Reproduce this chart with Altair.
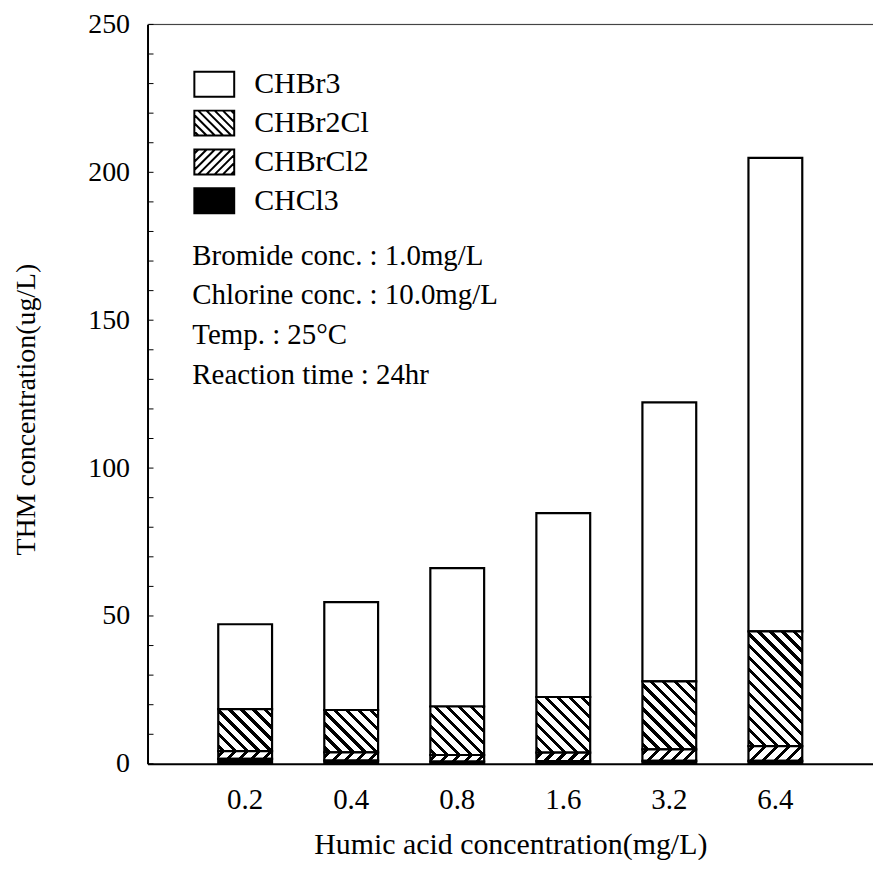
import altair as alt
import pandas as pd

# ---------------- data ----------------
humic = ["0.2", "0.4", "0.8", "1.6", "3.2", "6.4"]
series = ["CHBr3", "CHBr2Cl", "CHBrCl2", "CHCl3"]
chcl3 = [1.7, 1.1, 0.8, 0.9, 1.0, 1.0]
chbrcl2 = [2.6, 2.8, 2.2, 2.9, 3.9, 5.0]
chbr2cl = [14.2, 14.3, 16.4, 18.8, 23.0, 38.8]
chbr3 = [28.7, 36.5, 46.8, 62.2, 94.3, 160.1]
y_labels = [0, 50, 100, 150, 200, 250]
y_minor = list(range(0, 251, 10))
notes = ["Bromide conc. : 1.0mg/L", "Chlorine conc. : 10.0mg/L",
         "Temp. : 25\u00b0C", "Reaction time : 24hr"]

# ---------------- layout / style ----------------
FONT = "Liberation Serif"
W, H = 728, 742
YMAX = 250
PAD_IN, PAD_OUT = 0.4925, 0.667
step = W / (len(humic) - PAD_IN + 2 * PAD_OUT)
BW = step * (1 - PAD_IN)

values = {"CHCl3": chcl3, "CHBrCl2": chbrcl2, "CHBr2Cl": chbr2cl, "CHBr3": chbr3}
stack_order = ["CHCl3", "CHBrCl2", "CHBr2Cl", "CHBr3"]
rows = []
for i, h in enumerate(humic):
    lo = 0.0
    for s in stack_order:
        v = values[s][i]
        rows.append({"humic": h, "series": s, "lo": lo, "hi": lo + v})
        lo += v
df = pd.DataFrame(rows)


def hatch_fill(w, h, kind, period=12.0, thick=4.2, phase=3.0):
    """Linear gradient (objectBoundingBox) drawing 45 degree stripes."""
    L = w + h
    s = L / (w * w + h * h)
    if kind == "back":  # "\" stripes
        x1, y1, x2, y2 = 0.0, 1.0, s * w, 1.0 - s * h
    else:  # "/" stripes
        x1, y1, x2, y2 = 0.0, 0.0, s * w, s * h
    stops = [alt.GradientStop(offset=0.0, color="white")]
    pos = phase
    while pos < L:
        a = pos / L
        b = min((pos + thick) / L, 1.0)
        stops += [alt.GradientStop(offset=a, color="white"),
                  alt.GradientStop(offset=a, color="black"),
                  alt.GradientStop(offset=b, color="black"),
                  alt.GradientStop(offset=b, color="white")]
        pos += period
    stops.append(alt.GradientStop(offset=1.0, color="white"))
    return alt.LinearGradient(gradient="linear", stops=stops,
                              x1=x1, y1=y1, x2=x2, y2=y2)


def sym_path(kind, a=1.333, b=0.833, period=0.55):
    p = f"M{-a},{-b}L{a},{-b}L{a},{b}L{-a},{b}Z"
    if kind in ("back", "fwd"):
        c = -(a + b) + period / 2
        while c < a + b:
            xa = max(-a, c - b)
            xb = min(a, c + b)
            if xb - xa > 0.05:
                if kind == "back":
                    ya, yb = xa - c, xb - c
                else:
                    ya, yb = c - xa, c - xb
                p += f"M{xa:.3f},{ya:.3f}L{xb:.3f},{yb:.3f}"
            c += period
    return p


x_scale = alt.Scale(domain=humic, paddingInner=PAD_IN, paddingOuter=PAD_OUT)
y_scale = alt.Scale(domain=[0, YMAX], nice=False, zero=True)

x_axis = alt.Axis(title="Humic acid concentration(mg/L)", orient="bottom",
                  labelAngle=0, ticks=False, grid=False,
                  domainColor="black", domainWidth=2,
                  labelFont=FONT, labelFontSize=29, labelColor="black",
                  labelPadding=22, titleFont=FONT, titleFontSize=30,
                  titleFontWeight="normal", titleColor="black", titlePadding=15)
y_axis = alt.Axis(title="THM concentration(ug/L)", orient="left", values=y_labels,
                  ticks=False, grid=False, domainColor="black", domainWidth=2,
                  labelFont=FONT, labelFontSize=28, labelColor="black",
                  labelPadding=18, titleFont=FONT, titleFontSize=28,
                  titleFontWeight="normal", titleColor="black", titlePadding=47,
                  titleY=386)


def seg_layer(data, fill, with_axes=False):
    return alt.Chart(data).mark_bar(fill=fill, stroke="black", strokeWidth=2.2).encode(
        x=alt.X("humic:N", sort=humic, scale=x_scale,
                axis=x_axis if with_axes else None),
        y=alt.Y("lo:Q", scale=y_scale, axis=y_axis if with_axes else None),
        y2="hi:Q",
    )


layers = [seg_layer(df[df.series == "CHBr3"], "white", with_axes=True)]
for s, kind in (("CHBr2Cl", "back"), ("CHBrCl2", "fwd")):
    sub = df[df.series == s]
    for _, r in sub.iterrows():
        hpx = (r["hi"] - r["lo"]) * H / YMAX
        layers.append(seg_layer(sub[sub.humic == r["humic"]], hatch_fill(BW, hpx, kind)))
layers.append(seg_layer(df[df.series == "CHCl3"], "black"))

# top frame line
top = alt.Chart(pd.DataFrame({"top": [YMAX]})).mark_rule(
    color="#333333", strokeWidth=1).encode(y=alt.Y("top:Q", scale=y_scale, axis=None))

# inner minor ticks on the left edge
ticks = alt.Chart(pd.DataFrame({"v": y_minor})).mark_tick(
    orient="horizontal", size=5, thickness=1, color="black", opacity=1).encode(
    y=alt.Y("v:Q", scale=y_scale, axis=None), x=alt.value(3.5))

# legend via invisible points with custom hatched symbols
legend = alt.Legend(title=None, orient="none", legendX=51, legendY=44,
                    labelFont=FONT, labelFontSize=30, labelColor="black",
                    symbolStrokeColor="black", symbolStrokeWidth=2,
                    symbolSize=900, symbolOpacity=1, labelOffset=24,
                    rowPadding=5, padding=0)
shape_paths = [sym_path("box"), sym_path("back"), sym_path("fwd"), sym_path("box")]
pts = alt.Chart(df).mark_point(filled=True, opacity=1, strokeWidth=2).transform_filter(
    "false").encode(
    x=alt.X("humic:N", sort=humic, scale=x_scale, axis=None),
    y=alt.Y("hi:Q", scale=y_scale, axis=None),
    fill=alt.Fill("series:N", scale=alt.Scale(domain=series,
                  range=["white", "white", "white", "black"]), legend=legend),
    stroke=alt.Stroke("series:N", scale=alt.Scale(domain=series,
                      range=["black", "black", "black", "black"]), legend=legend),
    shape=alt.Shape("series:N", scale=alt.Scale(domain=series, range=shape_paths),
                    legend=legend),
)

note = alt.Chart(pd.DataFrame({"t": [0]})).mark_text(
    align="left", baseline="top", font=FONT, fontSize=29, color="black",
    lineHeight=40).encode(x=alt.value(45), y=alt.value(218), text=alt.value(notes))

chart = alt.layer(*layers, top, ticks, pts, note).resolve_axis(
    x="independent", y="independent").properties(
    width=W, height=H,
    padding={"left": 140, "top": 15, "right": 0, "bottom": 95},
    autosize=alt.AutoSizeParams(type="none"),
).configure_view(stroke=None).configure(background="white")

chart.save("out.html", embed_options={"renderer": "svg", "actions": False})
